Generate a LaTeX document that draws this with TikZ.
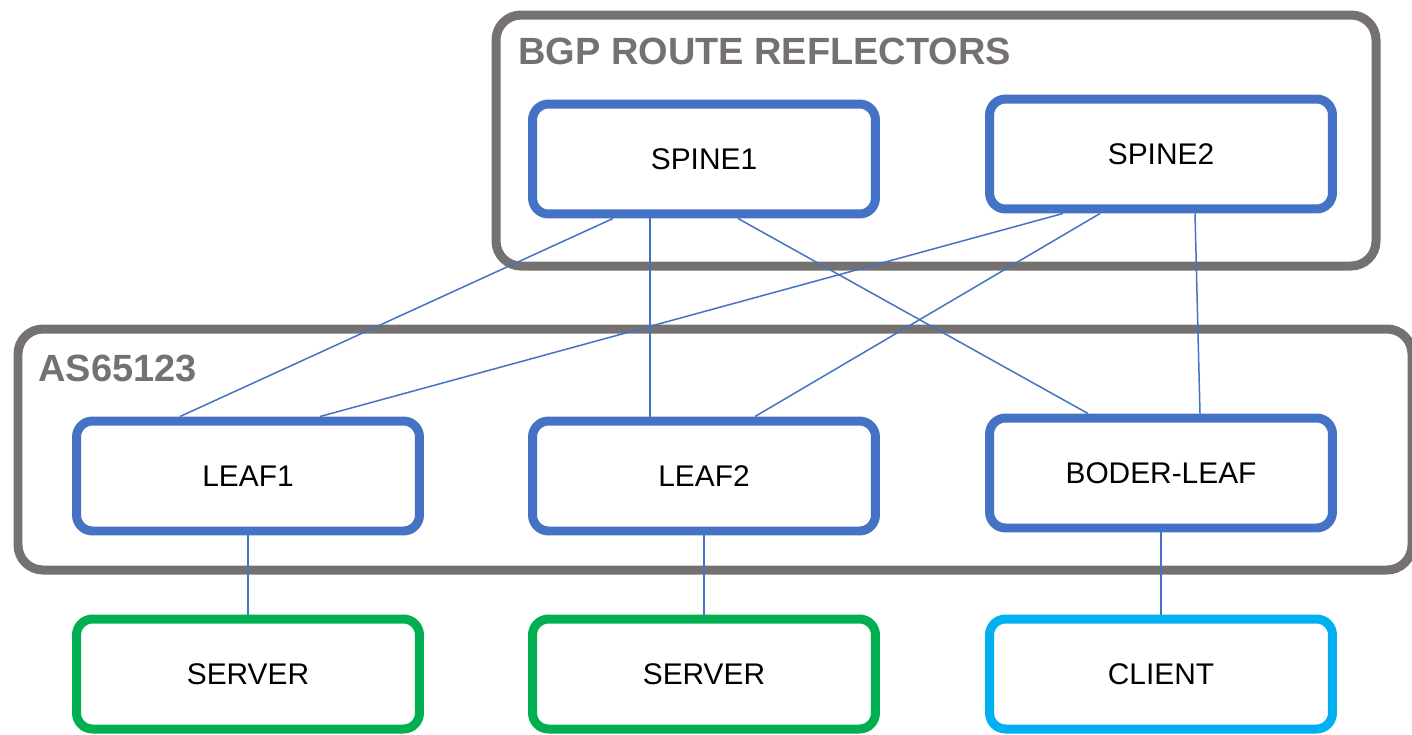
\documentclass[tikz,border=0pt]{standalone}
\usepackage{fontspec}
\setmainfont{Liberation Sans}
\usepackage{tikz}
\usetikzlibrary{calc}
\definecolor{rrblue}{HTML}{4472C4}
\definecolor{rrgreen}{HTML}{00B050}
\definecolor{rrcyan}{HTML}{00B0F0}
\definecolor{rrgray}{HTML}{767171}
\tikzset{
    x=0.02cm, y=-0.02cm, % one unit is one pixel of the sketch
    device/.style={draw=rrblue, line width=0.18cm, rounded corners=0.32cm, fill=white,
        minimum width=6.86cm, minimum height=2.2cm, inner sep=0pt,
        font=\fontsize{17}{20}\selectfont}, % switches and hosts
    server/.style={device, draw=rrgreen},
    client/.style={device, draw=rrcyan},
    group/.style={draw=rrgray, line width=0.18cm, rounded corners=0.5cm}, % grey frames
    grouptitle/.style={anchor=base west, inner sep=0pt, text=rrgray,
        font=\fontsize{21.6}{24}\selectfont\bfseries},
    link/.style={draw=rrblue, line width=0.03cm} % cables
}

\begin{document}
\begin{tikzpicture}
    \useasboundingbox (0,0) rectangle (1412,734);

    % Frames
    \draw[group] (496,15) rectangle (1376,266);
    \draw[group] (18,329) rectangle (1412,570);
    \node[grouptitle] (rrtitle) at (518,64) {BGP ROUTE REFLECTORS};
    \node[grouptitle] (astitle) at (38,381) {AS65123};

    % Devices
    \node[device] (spineA) at (704,159) {SPINE1};
    \node[device] (spineB) at (1161,154) {SPINE2};
    \node[device] (leafA) at (248,476) {LEAF1};
    \node[device] (leafB) at (704,476) {LEAF2};
    \node[device] (border) at (1161,473) {BODER-LEAF};
    \node[server] (srvA) at (248,674) {SERVER};
    \node[server] (srvB) at (704,674) {SERVER};
    \node[client] (cli) at (1161,674) {CLIENT};

    % Links
    \draw[link] ($(spineA.south)+(-91,0)$) -- ($(leafA.north)+(-68,0)$);
    \draw[link] ($(spineA.south)+(-54,0)$) -- ($(leafB.north)+(-54,0)$);
    \draw[link] ($(spineA.south)+(34,0)$) -- ($(border.north)+(-73,0)$);
    \draw[link] ($(spineB.south)+(-98,0)$) -- ($(leafA.north)+(72,0)$);
    \draw[link] ($(spineB.south)+(-61,0)$) -- ($(leafB.north)+(51,0)$);
    \draw[link] ($(spineB.south)+(34,0)$) -- ($(border.north)+(39,0)$);
    \draw[link] (leafA) -- (srvA);
    \draw[link] (leafB) -- (srvB);
    \draw[link] (border) -- (cli);
\end{tikzpicture}
\end{document}
